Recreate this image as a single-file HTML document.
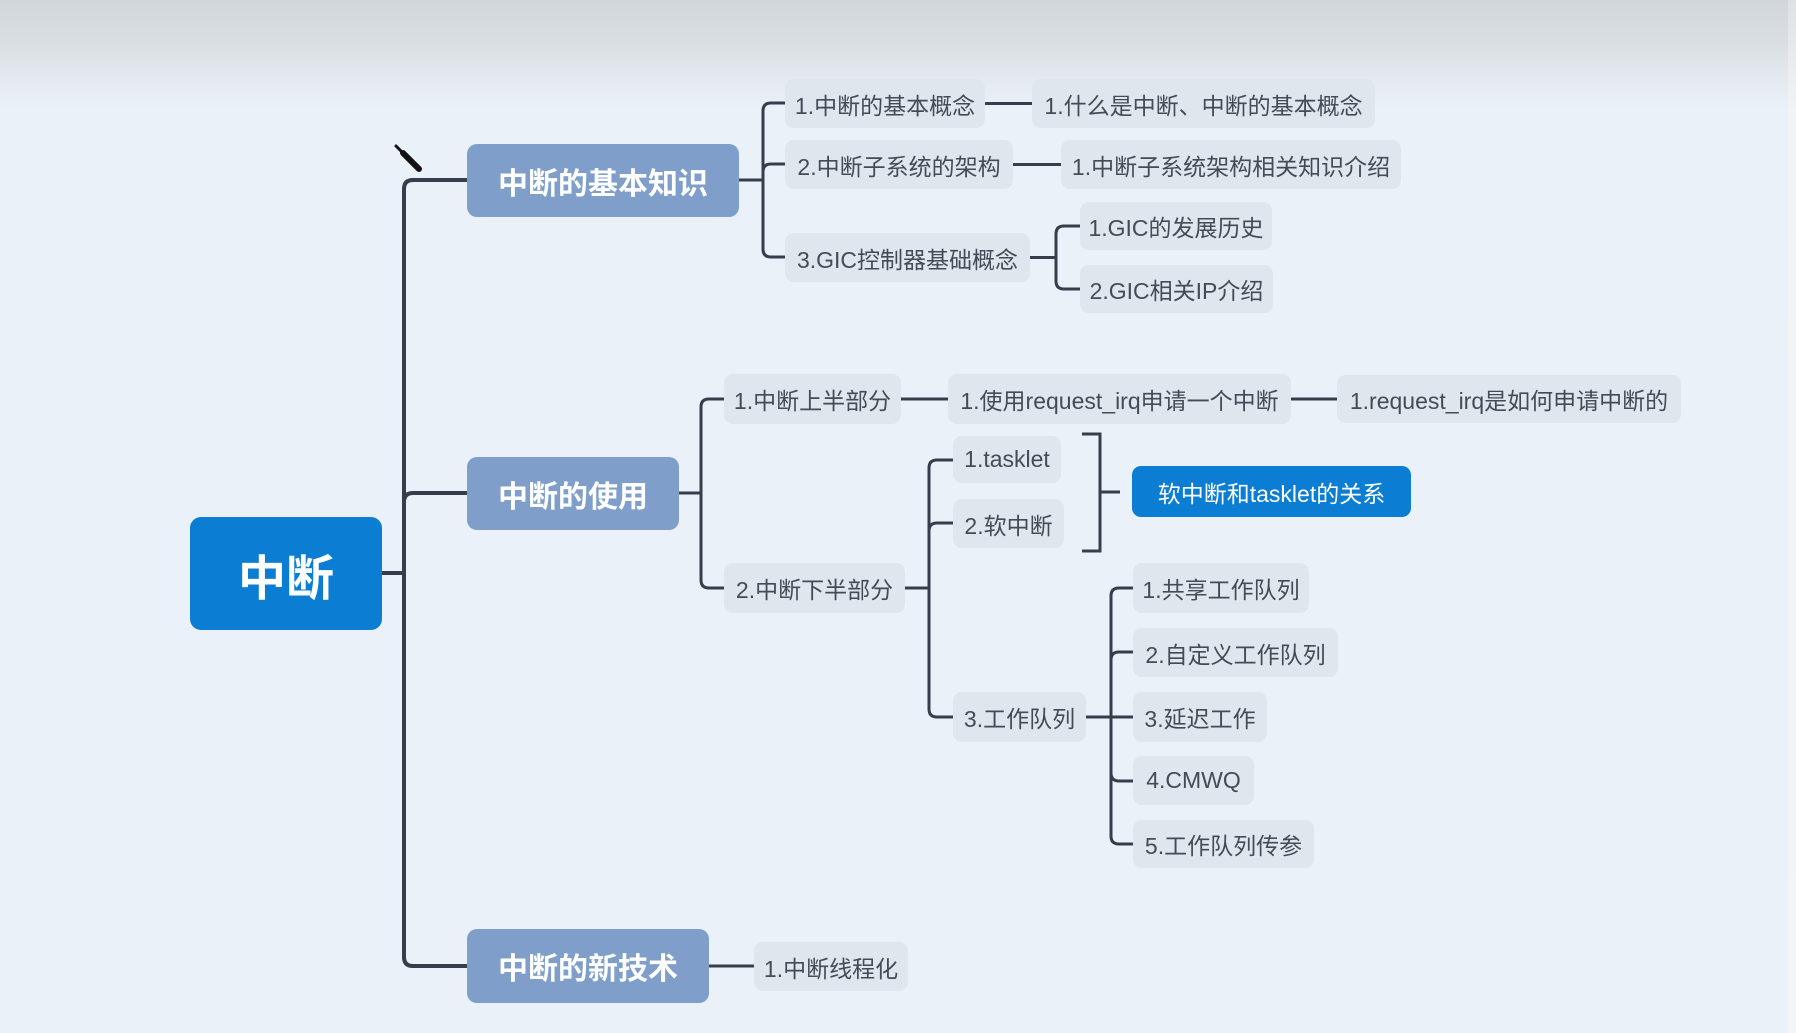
<!DOCTYPE html>
<html>
<head>
<meta charset="utf-8">
<style>
  html, body { margin:0; padding:0; }
  body {
    width:1796px; height:1033px; position:relative; overflow:hidden;
    background: linear-gradient(to bottom, #d1d6db 0px, #dadfe3 45px, #e5ebf1 85px, #eaf1f8 110px, #eaf1f9 100%);
    font-family: "Liberation Sans", "Noto Sans CJK SC", sans-serif;
  }
  .strip { position:absolute; left:1788px; top:0; width:8px; height:1033px; background:linear-gradient(to bottom,#dfe2e5 0px,#f1f3f6 110px,#f3f5f8 100%); }
  .n { position:absolute; display:flex; align-items:center; justify-content:center; white-space:nowrap; box-sizing:border-box; }
  .leaf { background:#dfe6ee; color:#434b57; font-size:23px; border-radius:9px; }
  .l1 { background:#7f9fca; color:#ffffff; font-size:30px; font-weight:bold; border-radius:10px; }
  .root { background:#0b7dd3; color:#ffffff; font-size:48px; font-weight:bold; border-radius:11px; }
  .blue { background:#0b7dd3; color:#ffffff; font-size:23px; border-radius:9px; }
  svg { position:absolute; left:0; top:0; }
</style>
</head>
<body>
<div class="strip"></div>

<svg width="1796" height="1033" viewBox="0 0 1796 1033">
  <g fill="none" stroke="#363e4b" stroke-width="4" stroke-linecap="butt">
    <path d="M382 573 H404"/>
    <path d="M404 573 V189 Q404 180 413 180 H467"/>
    <path d="M404 573 V502 Q404 493 413 493 H467"/>
    <path d="M404 573 V957 Q404 966 413 966 H467"/>
  </g>
  <g fill="none" stroke="#363e4b" stroke-width="3" stroke-linecap="butt">
    <!-- group 1 -->
    <path d="M739 180 H763"/>
    <path d="M763 180 V111 Q763 103 771 103 H785"/>
    <path d="M763 180 V172 Q763 164 771 164 H785"/>
    <path d="M763 180 V249 Q763 257 771 257 H785"/>
    <path d="M985 103.5 H1032"/>
    <path d="M1013 164.5 H1061"/>
    <path d="M1030 257.5 H1056"/>
    <path d="M1056 257 V234 Q1056 226 1064 226 H1080"/>
    <path d="M1056 257 V281 Q1056 289 1064 289 H1080"/>
    <!-- group 2 -->
    <path d="M679 493 H701"/>
    <path d="M701 493 V407 Q701 399 709 399 H724"/>
    <path d="M701 493 V580 Q701 588 709 588 H724"/>
    <path d="M901 399 H948"/>
    <path d="M1291 399 H1337"/>
    <path d="M905 588 H929"/>
    <path d="M929 588 V468 Q929 460 937 460 H953"/>
    <path d="M929 588 V531 Q929 523 937 523 H953"/>
    <path d="M929 588 V709 Q929 717 937 717 H953"/>
    <path d="M1082 434 H1100 V551 H1082"/>
    <path d="M1100 492 H1120"/>
    <path d="M1086 717 H1133"/>
    <path d="M1111 717 V596 Q1111 588 1119 588 H1133"/>
    <path d="M1111 717 V660 Q1111 652 1119 652 H1133"/>
    <path d="M1111 717 V773 Q1111 781 1119 781 H1133"/>
    <path d="M1111 717 V836 Q1111 844 1119 844 H1133"/>
    <!-- group 3 -->
    <path d="M709 966 H754"/>
  </g>
  <!-- cursor pen -->
  <g stroke="#111" stroke-linecap="round" fill="none">
    <path d="M396 146 L404 154" stroke-width="3"/>
    <path d="M403 153 L419 169" stroke-width="6"/>
  </g>
</svg>

<!-- root -->
<div class="n root" style="left:190px;top:517px;width:192px;height:113px;">中断</div>

<!-- level 1 -->
<div class="n l1" style="left:467px;top:144px;width:272px;height:73px;">中断的基本知识</div>
<div class="n l1" style="left:467px;top:457px;width:212px;height:73px;">中断的使用</div>
<div class="n l1" style="left:467px;top:929px;width:242px;height:74px;">中断的新技术</div>

<!-- group 1 -->
<div class="n leaf" style="left:785px;top:79px;width:200px;height:49px;">1.中断的基本概念</div>
<div class="n leaf" style="left:1032px;top:79px;width:343px;height:49px;">1.什么是中断、中断的基本概念</div>
<div class="n leaf" style="left:785px;top:140px;width:228px;height:49px;">2.中断子系统的架构</div>
<div class="n leaf" style="left:1061px;top:140px;width:340px;height:49px;">1.中断子系统架构相关知识介绍</div>
<div class="n leaf" style="left:785px;top:233px;width:245px;height:49px;">3.GIC控制器基础概念</div>
<div class="n leaf" style="left:1080px;top:202px;width:192px;height:48px;">1.GIC的发展历史</div>
<div class="n leaf" style="left:1080px;top:265px;width:193px;height:48px;">2.GIC相关IP介绍</div>

<!-- group 2 -->
<div class="n leaf" style="left:724px;top:374px;width:177px;height:50px;">1.中断上半部分</div>
<div class="n leaf" style="left:948px;top:374px;width:343px;height:50px;">1.使用request_irq申请一个中断</div>
<div class="n leaf" style="left:1337px;top:375px;width:344px;height:48px;">1.request_irq是如何申请中断的</div>
<div class="n leaf" style="left:724px;top:563px;width:181px;height:50px;">2.中断下半部分</div>
<div class="n leaf" style="left:953px;top:436px;width:108px;height:47px;">1.tasklet</div>
<div class="n leaf" style="left:953px;top:499px;width:111px;height:49px;">2.软中断</div>
<div class="n blue" style="left:1132px;top:466px;width:279px;height:51px;">软中断和tasklet的关系</div>
<div class="n leaf" style="left:953px;top:692px;width:133px;height:50px;">3.工作队列</div>
<div class="n leaf" style="left:1133px;top:563px;width:176px;height:50px;">1.共享工作队列</div>
<div class="n leaf" style="left:1133px;top:628px;width:205px;height:49px;">2.自定义工作队列</div>
<div class="n leaf" style="left:1133px;top:692px;width:134px;height:50px;">3.延迟工作</div>
<div class="n leaf" style="left:1133px;top:756px;width:121px;height:49px;">4.CMWQ</div>
<div class="n leaf" style="left:1133px;top:820px;width:181px;height:48px;">5.工作队列传参</div>

<!-- group 3 -->
<div class="n leaf" style="left:754px;top:942px;width:154px;height:49px;">1.中断线程化</div>

</body>
</html>
